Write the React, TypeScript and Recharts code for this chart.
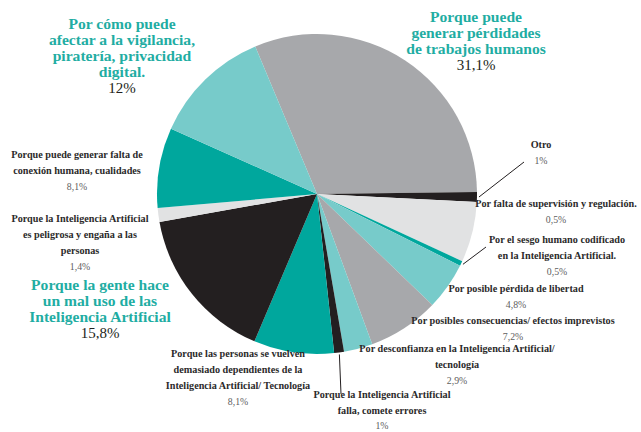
import React from 'react';
import { PieChart, Pie, Cell } from 'recharts';

// Slices in clockwise order, starting at the upper-left edge of the big grey slice
const CATEGORIES: string[][] = [
  ['Porque puede', 'generar pérdidades', 'de trabajos humanos'],
  ['Otro'],
  ['Por falta de supervisión y regulación.'],
  ['Por el sesgo humano codificado', 'en la Inteligencia Artificial.'],
  ['Por posible pérdida de libertad'],
  ['Por posibles consecuencias/ efectos imprevistos'],
  ['Por desconfianza en la Inteligencia Artificial/', 'tecnología'],
  ['Porque la Inteligencia Artificial', 'falla, comete errores'],
  ['Porque las personas se vuelven', 'demasiado dependientes de la', 'Inteligencia Artificial/ Tecnología'],
  ['Porque la gente hace', 'un mal uso de las', 'Inteligencia Artificial'],
  ['Porque la Inteligencia Artificial', 'es peligrosa y engaña a las', 'personas'],
  ['Porque puede generar falta de', 'conexión humana, cualidades'],
  ['Por cómo puede', 'afectar a la vigilancia,', 'piratería, privacidad', 'digital.']
];

// slice sizes as drawn (the light grey slice is drawn larger than its printed label)
const VALUES = [31.1, 1, 6.1, 0.5, 4.8, 7.2, 2.9, 1, 8.1, 15.8, 1.4, 8.1, 12];
const PCT_LABELS = ['31,1%', '1%', '0,5%', '0,5%', '4,8%', '7,2%', '2,9%', '1%', '8,1%', '15,8%', '1,4%', '8,1%', '12%'];
const HIGHLIGHTED = [0, 9, 12];

const GREY = '#a7a8ab';
const BLACK = '#231f20';
const LIGHT = '#e1e2e3';
const TEAL = '#00a79d';
const AQUA = '#77cbca';
const COLORS = [GREY, BLACK, LIGHT, TEAL, AQUA, GREY, AQUA, BLACK, TEAL, BLACK, LIGHT, TEAL, AQUA];

// label anchor (centre x, first baseline y) and optional leader line end
const LABEL_LAYOUT: { x: number; y: number; line?: [number, number] }[] = [
  { x: 476, y: 22 },
  { x: 541, y: 148, line: [524, 162] },
  { x: 556, y: 207 },
  { x: 557, y: 243, line: [486, 247] },
  { x: 516, y: 292 },
  { x: 513, y: 324 },
  { x: 457, y: 352 },
  { x: 382, y: 398, line: [341, 394] },
  { x: 238, y: 357 },
  { x: 100, y: 290 },
  { x: 80, y: 222 },
  { x: 77, y: 158 },
  { x: 122, y: 29 }
];

const data = CATEGORIES.map((lines, i) => ({
  name: lines.join(' '),
  value: VALUES[i]
}));

const FONT = '"Liberation Serif", "DejaVu Serif", serif';
const RAD = Math.PI / 180;

const renderLabel = (props: any) => {
  const { cx, cy, midAngle, outerRadius, index } = props;
  const pos = LABEL_LAYOUT[index];
  const lines = CATEGORIES[index];
  const big = HIGHLIGHTED.includes(index);
  const lh = 16;
  // the bottom label sits against the page edge, so its lines are a little tighter
  const pctGap = index === 7 ? 14.5 : lh;
  let leader = null;
  if (pos.line) {
    const r = outerRadius + 2;
    const sx = cx + r * Math.cos(-midAngle * RAD);
    const sy = cy + r * Math.sin(-midAngle * RAD);
    leader = <line x1={sx} y1={sy} x2={pos.line[0]} y2={pos.line[1]} stroke={BLACK} strokeWidth={1} />;
  }
  return (
    <g key={`lbl-${index}`}>
      {leader}
      {lines.map((t, j) => (
        <text
          key={j}
          x={pos.x}
          y={pos.y + j * lh}
          textAnchor="middle"
          fontFamily={FONT}
          fontWeight="bold"
          fontSize={big ? 15.6 : 10.2}
          fill={big ? '#1fada3' : '#2b2a2a'}
        >
          {t}
        </text>
      ))}
      <text
        x={pos.x}
        y={pos.y + (lines.length - 1) * lh + pctGap}
        textAnchor="middle"
        fontFamily={FONT}
        fontSize={big ? 15 : 9.8}
        fill={big ? '#231f20' : '#606060'}
      >
        {PCT_LABELS[index]}
      </text>
    </g>
  );
};

export default function App() {
  return (
    <div style={{ position: 'absolute', left: 0, top: 0, width: 641, height: 432, background: '#fff' }}>
      <PieChart width={641} height={432}>
        <Pie
          data={data}
          dataKey="value"
          cx={312}
          cy={189}
          outerRadius={160}
          startAngle={112.7}
          endAngle={-247.3}
          stroke="none"
          label={renderLabel}
          labelLine={false}
          isAnimationActive={false}
        >
          {data.map((d, i) => (
            <Cell key={d.name} fill={COLORS[i]} />
          ))}
        </Pie>
      </PieChart>
    </div>
  );
}
